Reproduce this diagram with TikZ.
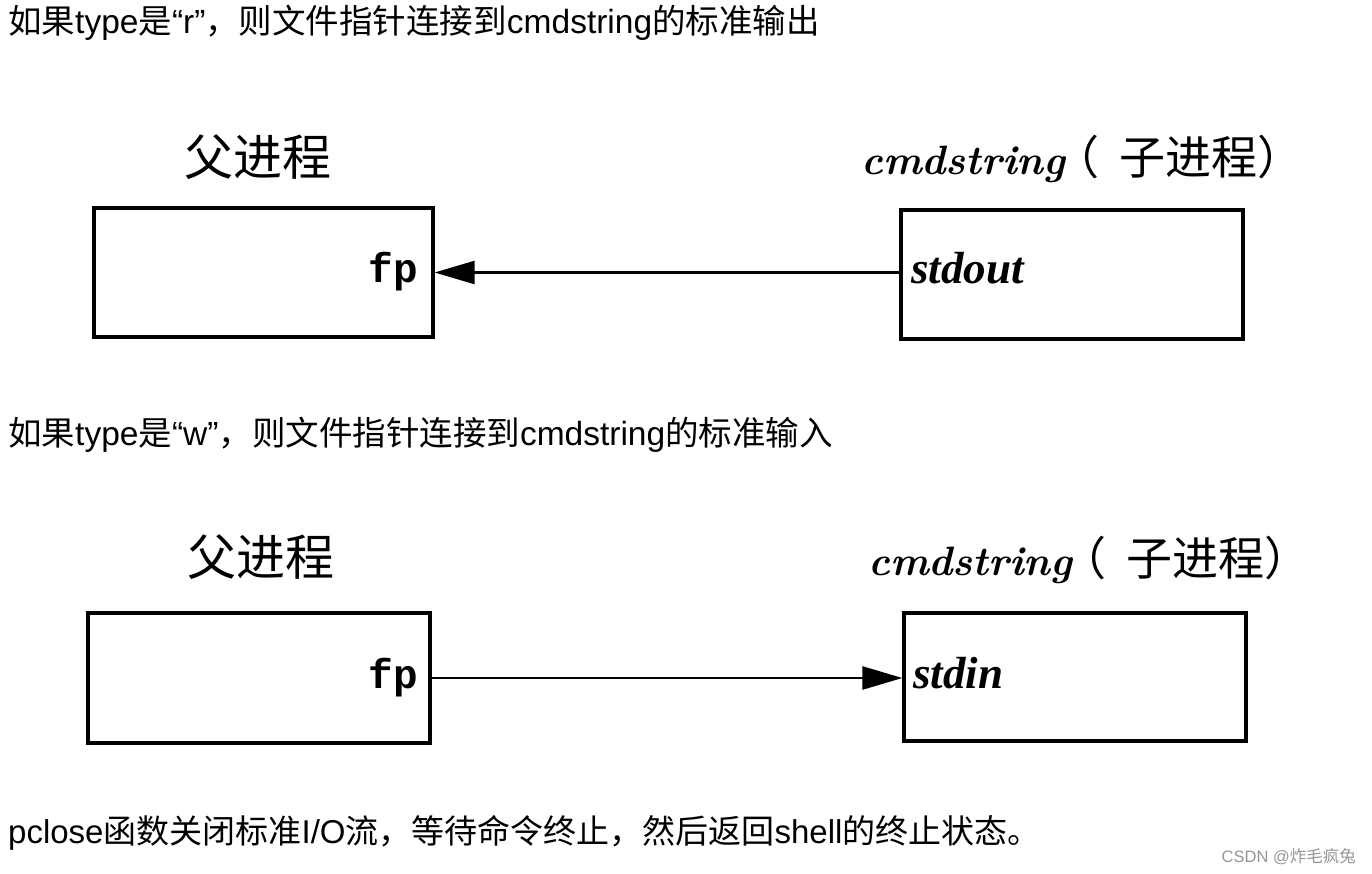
\documentclass[tikz,border=0pt]{standalone}
\usepackage{fontspec}
\usetikzlibrary{arrows.meta}
\newfontfamily\cjk{Noto Sans CJK SC}
\newfontfamily\lat{Liberation Sans}
\newfontfamily\mono{Liberation Mono}
\newfontfamily\tms{Liberation Serif}
\definecolor{wm}{RGB}{150,150,150}
\newcommand{\childlabel}{{\rmfamily\bfseries\itshape\fontsize{41}{41}\selectfont cmdstring}\hspace{-12pt}{\cjk\fontsize{46}{46}\selectfont （\hspace{20pt}子进程）}}
\begin{document}
\begin{tikzpicture}[x=1pt,y=-1pt,
  procbox/.style={draw, line width=3.2pt, inner sep=0pt},
  conn/.style={line width=2.4pt, -{Triangle[length=40pt,width=23pt]}},
  line/.style={anchor=base west, inner sep=0pt, font=\fontsize{33.5}{33.5}\selectfont},
  cjklabel/.style={inner sep=0pt, font=\cjk\fontsize{49}{49}\selectfont},
  sublabel/.style={anchor=base west, inner sep=0pt},
  fplabel/.style={anchor=base east, inner sep=0pt, font=\mono\bfseries\fontsize{41}{41}\selectfont},
  stdlabel/.style={anchor=base west, inner sep=0pt, font=\tms\bfseries\itshape\fontsize{45}{45}\selectfont}]
\useasboundingbox[fill=white] (0,0) rectangle (1372,874);

% text lines
\node[line] (t1) at (8,34) {{\cjk 如果}{\lat type}{\cjk 是}{\lat “r”}{\cjk ，则文件指针连接到}{\lat cmdstring}{\cjk 的标准输出}};
\node[line] (t2) at (8,445) {{\cjk 如果}{\lat type}{\cjk 是}{\lat “w”}{\cjk ，则文件指针连接到}{\lat cmdstring}{\cjk 的标准输入}};
\node[line, font=\fontsize{33}{33}\selectfont] (t3) at (8,843) {{\lat pclose}{\cjk 函数关闭标准}{\lat I/O}{\cjk 流，等待命令终止，然后返回}{\lat shell}{\cjk 的终止状态。}};
\node[anchor=base east, inner sep=0pt, text=wm, font=\fontsize{16.5}{16.5}\selectfont] (wmk) at (1356,862) {{\lat CSDN @}{\cjk 炸毛疯兔}};

% first diagram
\node[cjklabel] (par1) at (258,157) {父进程};
\node[sublabel] (chl1) at (861,175) {\childlabel};
\node[procbox, minimum width=339pt, minimum height=129pt] (p1) at (263.5,272.5) {};
\node[procbox, minimum width=342pt, minimum height=129pt] (c1) at (1072,274.5) {};
\node[fplabel] (fp1) at (418,283) {fp};
\node[stdlabel] (so1) at (911,284) {stdout};
\draw[conn] (c1.west |- p1.east) -- (p1.east);

% second diagram
\node[cjklabel] (par2) at (261,557) {父进程};
\node[sublabel] (chl2) at (868,575) {\childlabel};
\node[procbox, minimum width=342pt, minimum height=130pt] (p2) at (259,678) {};
\node[procbox, minimum width=342pt, minimum height=128pt] (c2) at (1075,677) {};
\node[fplabel] (fp2) at (418,688) {fp};
\node[stdlabel] (si2) at (913,688) {stdin};
\draw[conn] (p2.east) -- (p2.east -| c2.west);
\end{tikzpicture}
\end{document}
